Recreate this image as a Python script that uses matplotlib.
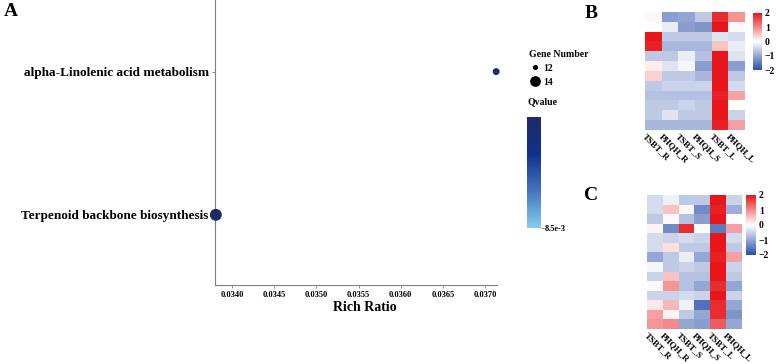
import matplotlib
matplotlib.use('Agg')
import matplotlib.pyplot as plt
import numpy as np
from matplotlib.colors import LinearSegmentedColormap, Normalize
from matplotlib.lines import Line2D

plt.rcParams['font.family'] = ['Liberation Serif', 'DejaVu Serif']
plt.rcParams['font.weight'] = 'bold'

# panel A data
pathways = ['Terpenoid backbone biosynthesis', 'alpha-Linolenic acid metabolism']
rich_ratio = [0.03381, 0.03713]
gene_number = [14, 12]
qvalue = [0.0095, 0.0094]

# heatmap data
samples = ['TSBT_R', 'PHQH_R', 'TSBT_S', 'PHQH_S', 'TSBT_L', 'PHQH_L']
heat_b = [
    [0.05, -1.1, -1.0, -0.6, 1.8, 0.9],
    [0.0, -0.2, -1.1, -1.2, 2.0, 0.05],
    [2.0, -0.6, -0.6, -0.6, -0.3, -0.4],
    [1.9, -0.8, -0.8, -0.8, 0.5, -0.2],
    [-0.6, -0.6, -0.2, -0.7, 2.0, -0.3],
    [0.15, -0.3, -0.1, -1.1, 2.0, -1.1],
    [0.4, -0.6, -0.6, -0.8, 2.0, -0.6],
    [-0.6, -0.5, -0.5, -0.5, 2.0, -0.4],
    [-0.7, -0.7, -0.7, -0.7, 1.9, 0.8],
    [-0.6, -0.6, -0.5, -0.6, 2.0, 0.0],
    [-0.6, -0.3, -0.6, -0.6, 2.0, -0.5],
    [-0.8, -0.8, -0.8, -0.8, 1.9, 0.8],
]
heat_c = [
    [-0.4, -0.15, -0.6, -0.6, 2.0, -0.5],
    [-0.4, 0.5, 0.05, -1.3, 1.9, -0.9],
    [-0.6, 0.05, -0.7, -1.1, 2.0, 0.0],
    [0.1, -1.3, 1.8, 0.0, -1.5, 0.8],
    [-0.4, -0.5, -0.4, -0.5, 2.0, -0.4],
    [-0.4, 0.25, -0.6, -0.6, 2.0, -0.6],
    [-1.0, -0.6, -0.2, -1.0, 1.9, 0.8],
    [-0.1, -0.6, -0.5, -0.6, 2.0, -0.5],
    [-0.5, 0.5, -0.7, -0.7, 2.0, -0.6],
    [-0.05, 0.9, -0.7, -1.0, 1.8, -1.0],
    [-0.5, -0.5, -0.4, -0.5, 2.0, -0.5],
    [0.2, 0.6, -0.15, -1.6, 1.8, -1.0],
    [0.8, 0.1, -0.6, -1.0, 1.8, -1.2],
    [0.9, 1.0, -1.0, -1.1, 1.4, -1.0],
]

W, H = 777, 364
fig = plt.figure(figsize=(W / 100, H / 100), dpi=100)

def box(x0, y0, x1, y1):
    # pixel box -> figure fraction
    return [x0 / W, 1 - y1 / H, (x1 - x0) / W, (y1 - y0) / H]

def dot_size(g):
    # marker diameter in points for a gene count
    return (g - 12) * 1.8 + 5.0

# ---- panel A: bubble plot
q_cmap = LinearSegmentedColormap.from_list('q', ['#87CEEB', '#4474C0', '#12318E', '#1B2C63'])
q_norm = Normalize(vmin=0.0085, vmax=0.0095)
gray = '#7f7f7f'

ax = fig.add_axes(box(215, 0, 497, 285))
ypos = np.arange(1, len(pathways) + 1)
ax.scatter(rich_ratio, ypos, s=[dot_size(g) ** 2 for g in gene_number], c=qvalue,
           cmap=q_cmap, norm=q_norm, clip_on=False, zorder=3, linewidths=0)
ax.set_xlim(0.03380, 0.03714)
ax.set_ylim(0.51, 2.5)
ax.set_xticks([0.0340, 0.0345, 0.0350, 0.0355, 0.0360, 0.0365, 0.0370])
ax.set_xticklabels(['%.4f' % t for t in ax.get_xticks()], fontsize=6, fontweight='bold')
ax.set_yticks(ypos)
ax.set_yticklabels(pathways, fontsize=9.5, fontweight='bold')
ax.set_xlabel('Rich Ratio', fontsize=10, fontweight='bold')
ax.xaxis.set_label_coords(0.53, -0.055)
for s in ['top', 'right']:
    ax.spines[s].set_visible(False)
for s in ['left', 'bottom']:
    ax.spines[s].set_color(gray)
    ax.spines[s].set_linewidth(0.8)
ax.tick_params(colors=gray, length=2.5, width=0.6, labelcolor='black', pad=2)

# gene number legend
handles = [Line2D([], [], marker='o', ls='', color='black', markeredgewidth=0,
                  markersize=dot_size(g) * (0.75 if g == 12 else 0.9)) for g in [12, 14]]
fig.legend(handles, ['12', '14'], title='Gene Number', loc='upper left',
           bbox_to_anchor=(522 / W, 1 - 43 / H), frameon=False, alignment='left',
           prop={'size': 7, 'weight': 'bold'}, title_fontproperties={'size': 7, 'weight': 'bold'},
           handletextpad=0.3, labelspacing=0.5, borderpad=0.2, handlelength=1.2)

fig.text(527 / W, 1 - 102 / H, 'Qvalue', fontsize=7, fontweight='bold', va='center')
qax = fig.add_axes(box(527, 117, 541, 228))
cb = fig.colorbar(plt.cm.ScalarMappable(norm=q_norm, cmap=q_cmap), cax=qax)
cb.outline.set_visible(False)
cb.set_ticks([0.0085])
cb.set_ticklabels(['8.5e-3'])
qax.tick_params(length=2, width=0.6, color=gray, labelsize=6, pad=1)

# ---- heatmaps
h_cmap = LinearSegmentedColormap.from_list('h', ['#2A4FA7', '#FFFFFF', '#E8161B'])

def heatmap(data, hbox, cbox):
    hx = fig.add_axes(box(*hbox))
    im = hx.imshow(np.array(data), cmap=h_cmap, vmin=-2, vmax=2, aspect='auto',
                   interpolation='nearest')
    hx.set_yticks([])
    hx.set_xticks(np.arange(len(samples)) - 0.4)
    hx.set_xticklabels(samples, rotation=-45, ha='left', va='top', rotation_mode='anchor',
                       fontsize=6.5, fontweight='bold')
    hx.tick_params(length=0, pad=1.5)
    for s in hx.spines.values():
        s.set_visible(False)
    cx = fig.add_axes(box(*cbox))
    c = fig.colorbar(im, cax=cx)
    c.outline.set_visible(False)
    c.set_ticks([2, 1, 0, -1, -2])
    c.set_ticklabels(['2', '1', '0', '\u22121', '\u22122'])
    cx.tick_params(length=0, labelsize=7, pad=2)

heatmap(heat_b, (645, 12, 745, 130), (753, 13, 762, 70))
heatmap(heat_c, (647, 195, 742, 329), (746, 195, 756, 255))

# panel letters
fig.text(4 / W, 1 - 12 / H, 'A', fontsize=14, fontweight='bold', va='center')
fig.text(585 / W, 1 - 14 / H, 'B', fontsize=14, fontweight='bold', va='center')
fig.text(584 / W, 1 - 196 / H, 'C', fontsize=14, fontweight='bold', va='center')

fig.savefig('out.png', dpi=100)
